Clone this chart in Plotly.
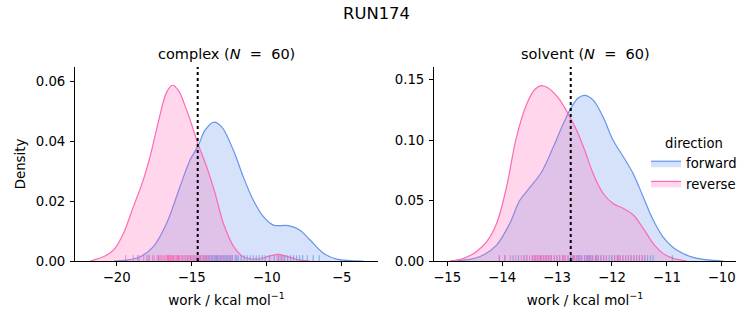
import plotly.graph_objects as go

# ---------------- data ----------------
# KDE curves (work in kcal/mol, density)
cx_fwd_x = [-20.2, -19.3, -18.44, -17.55, -16.67, -15.78, -15.11, -14.55, -14.11, -13.51, -13.0, -12.22,
            -11.56, -10.89, -10.22, -9.56, -8.56, -7.78, -7.11, -6.22, -5.33, -3.55]
cx_fwd_y = [0.0, 0.0003, 0.0014, 0.0048, 0.0126, 0.0248, 0.0337, 0.0387, 0.0437, 0.0464, 0.0448, 0.037,
            0.0281, 0.0203, 0.0148, 0.012, 0.0118, 0.0103, 0.007, 0.0026, 0.0006, 0.0]
cx_rev_x = [-21.78, -20.9, -20.2, -19.55, -18.9, -18.3, -17.78, -17.2, -16.67, -16.29, -15.89, -15.33,
            -14.55, -14.0, -13.44, -12.89, -12.2, -11.56, -10.67, -9.78, -9.2, -8.56, -7.78, -7.1]
cx_rev_y = [0.0, 0.0014, 0.0037, 0.0092, 0.018, 0.026, 0.0348, 0.047, 0.0564, 0.0587, 0.057, 0.0503,
            0.0387, 0.0314, 0.0226, 0.0126, 0.0048, 0.0014, 0.0006, 0.0017, 0.0022, 0.0014, 0.0003, 0.0]

sv_fwd_x = [-14.95, -14.59, -14.34, -14.1, -13.86, -13.68, -13.49, -13.28, -13.07, -12.89, -12.74, -12.61,
            -12.49, -12.34, -12.16, -11.98, -11.79, -11.61, -11.43, -11.25, -11.07, -10.82, -10.52, -10.15, -9.97]
sv_fwd_y = [0.0, 0.0014, 0.005, 0.0132, 0.031, 0.05, 0.061, 0.0736, 0.094, 0.113, 0.127, 0.135,
            0.137, 0.133, 0.119, 0.1, 0.086, 0.072, 0.053, 0.034, 0.02, 0.009, 0.003, 0.0005, 0.0]
sv_rev_x = [-14.95, -14.71, -14.47, -14.28, -14.1, -13.92, -13.74, -13.55, -13.4, -13.28, -13.16, -12.98,
            -12.8, -12.64, -12.49, -12.34, -12.16, -11.98, -11.79, -11.61, -11.43, -11.25, -11.07, -10.88, -10.64]
sv_rev_y = [0.0, 0.002, 0.0077, 0.016, 0.031, 0.061, 0.102, 0.13, 0.142, 0.145, 0.143, 0.135,
            0.122, 0.108, 0.091, 0.072, 0.056, 0.0475, 0.0434, 0.038, 0.027, 0.0146, 0.0063, 0.0022, 0.0]

# individual work values (rug)
cx_fwd_work = [-18.6, -17.9, -17.2, -16.6, -16.2, -15.9, -15.6, -15.3, -15.1, -14.9, -14.7, -14.5, -14.4,
               -14.2, -14.1, -14.0, -13.9, -13.8, -13.7, -13.6, -13.5, -13.4, -13.35, -13.3, -13.2, -13.1,
               -13.0, -12.9, -12.8, -12.7, -12.6, -12.5, -12.4, -12.3, -12.1, -12.0, -11.9, -11.7, -11.5,
               -11.3, -11.1, -10.9, -10.7, -10.5, -10.3, -10.1, -9.8, -9.5, -9.2, -9.0, -8.8, -8.6, -8.4,
               -8.2, -8.0, -7.8, -7.6, -7.3, -6.9, -6.5]
cx_rev_work = [-19.4, -18.9, -18.5, -18.2, -18.0, -17.8, -17.6, -17.5, -17.3, -17.2, -17.1, -17.0, -16.9,
               -16.8, -16.7, -16.6, -16.55, -16.5, -16.45, -16.4, -16.3, -16.25, -16.2, -16.1, -16.0,
               -15.95, -15.9, -15.8, -15.7, -15.6, -15.5, -15.4, -15.3, -15.2, -15.1, -15.0, -14.9, -14.8,
               -14.7, -14.6, -14.5, -14.4, -14.3, -14.2, -14.1, -14.0, -13.9, -13.7, -13.5, -13.3, -13.1,
               -12.9, -12.7, -12.5, -12.3, -9.3, -9.1, -8.9, -16.35, -15.85]
sv_fwd_work = [-14.05, -13.95, -13.8, -13.7, -13.6, -13.55, -13.45, -13.4, -13.3, -13.25, -13.2, -13.1,
               -13.05, -13.0, -12.95, -12.9, -12.85, -12.8, -12.75, -12.7, -12.65, -12.6, -12.58, -12.55,
               -12.5, -12.47, -12.45, -12.4, -12.38, -12.35, -12.3, -12.25, -12.2, -12.15, -12.1, -12.05,
               -12.0, -11.95, -11.9, -11.85, -11.8, -11.75, -11.7, -11.65, -11.6, -11.55, -11.5, -11.45,
               -11.4, -11.35, -11.3, -11.25, -12.62, -12.42, -12.28, -12.72, -13.15, -13.35, -11.9, -10.9]
sv_rev_work = [-14.05, -13.95, -13.85, -13.75, -13.65, -13.6, -13.55, -13.5, -13.45, -13.4, -13.38, -13.35,
               -13.3, -13.28, -13.25, -13.2, -13.18, -13.15, -13.1, -13.05, -13.0, -12.95, -12.9, -12.85,
               -12.8, -12.75, -12.7, -12.65, -12.6, -12.55, -12.5, -12.45, -12.4, -12.35, -12.3, -12.25,
               -12.2, -12.15, -12.1, -12.0, -11.95, -11.9, -11.85, -11.8, -11.75, -11.7, -11.65, -11.6,
               -11.55, -11.5, -11.45, -11.4, -13.42, -13.32, -13.22, -13.12, -12.88, -12.68, -12.42, -11.88]

cx_dg = -14.6
sv_dg = -12.75

cx_xticks = [-20, -15, -10, -5]
cx_yticks = [0.0, 0.02, 0.04, 0.06]
sv_xticks = [-15, -14, -13, -12, -11, -10]
sv_yticks = [0.0, 0.05, 0.10, 0.15]

# ---------------- style ----------------
BLUE = "#6495ED"
PINK = "#FF69B4"
BLUE_FILL = "rgba(100,149,237,0.27)"
PINK_FILL = "rgba(255,105,180,0.27)"
BLUE_RUG = "rgba(100,149,237,0.8)"
PINK_RUG = "rgba(255,105,180,0.8)"
FONT = "DejaVu Sans"
W, H = 753, 325

fig = go.Figure()

def px2x(p):
    return p / W

def px2y(p):
    return 1 - p / H

panels = [
    dict(xa="x", ya="y", fx=cx_fwd_x, fy=cx_fwd_y, rx=cx_rev_x, ry=cx_rev_y,
         fw=cx_fwd_work, rw=cx_rev_work, dg=cx_dg, ymax=0.0648, legend=False),
    dict(xa="x2", ya="y2", fx=sv_fwd_x, fy=sv_fwd_y, rx=sv_rev_x, ry=sv_rev_y,
         fw=sv_fwd_work, rw=sv_rev_work, dg=sv_dg, ymax=0.1604, legend=True),
]

for p in panels:
    for xs, ys, line, fill, name in [(p["fx"], p["fy"], BLUE, BLUE_FILL, "forward"),
                                     (p["rx"], p["ry"], PINK, PINK_FILL, "reverse")]:
        fig.add_trace(go.Scatter(x=xs, y=ys, mode="lines", line=dict(color=line, width=1.2, shape="spline", smoothing=1.0),
                                 fill="tozeroy", fillcolor=fill, name=name, showlegend=p["legend"],
                                 xaxis=p["xa"], yaxis=p["ya"], hoverinfo="skip"))
    h = p["ymax"] * 0.03
    for works, col in [(p["fw"], BLUE_RUG), (p["rw"], PINK_RUG)]:
        rx, ry = [], []
        for w in works:
            rx += [w, w, None]
            ry += [0, h, None]
        fig.add_trace(go.Scatter(x=rx, y=ry, mode="lines", line=dict(color=col, width=1),
                                 showlegend=False, xaxis=p["xa"], yaxis=p["ya"], hoverinfo="skip"))
    fig.add_trace(go.Scatter(x=[p["dg"], p["dg"]], y=[0, p["ymax"]], mode="lines",
                             line=dict(color="black", width=2, dash="dot"), showlegend=False,
                             xaxis=p["xa"], yaxis=p["ya"], hoverinfo="skip"))

y_dom = [px2y(261), px2y(67)]
axis_common = dict(showgrid=False, zeroline=False, showline=True, linecolor="black", linewidth=1,
                   ticks="outside", ticklen=4, tickwidth=1, tickcolor="black", automargin=False,
                   tickfont=dict(family=FONT, size=13.3, color="black"))
xlab = "work / kcal mol<sup>−1</sup>"

fig.update_layout(
    width=W, height=H, margin=dict(l=0, r=0, t=0, b=0, autoexpand=False),
    paper_bgcolor="white", plot_bgcolor="white",
    font=dict(family=FONT, color="black"),
    xaxis=dict(domain=[px2x(75), px2x(378)], range=[-22.78, -2.58], tickvals=cx_xticks, anchor="y",
               ticklabelstandoff=0,
               title=dict(text=xlab, font=dict(size=13.5), standoff=11), **axis_common),
    yaxis=dict(domain=y_dom, range=[0, 0.0648], tickvals=cx_yticks, tickformat=".2f", anchor="x",
               ticklabelstandoff=2,
               title=dict(text="Density", font=dict(size=13.3), standoff=7), **axis_common),
    xaxis2=dict(domain=[px2x(434), px2x(736)], range=[-15.24, -9.74], tickvals=sv_xticks, anchor="y2",
                ticklabelstandoff=0,
                title=dict(text=xlab, font=dict(size=13.5), standoff=11), **axis_common),
    yaxis2=dict(domain=y_dom, range=[0, 0.1604], tickvals=sv_yticks, tickformat=".2f", anchor="x2",
                ticklabelstandoff=2, **axis_common),
    legend=dict(x=px2x(646), y=px2y(131), xanchor="left", yanchor="top", bgcolor="rgba(0,0,0,0)",
                font=dict(family=FONT, size=13.2), title=dict(text="direction", side="top center", font=dict(size=13.2)),
                itemwidth=30, tracegroupgap=0),
    annotations=[
        dict(text="RUN174", x=0.5, y=px2y(13), xref="paper", yref="paper", showarrow=False,
             font=dict(family=FONT, size=16.4), xanchor="center", yanchor="middle"),
        dict(text="complex (<i>N</i>&nbsp;&nbsp;=&nbsp;&nbsp;60)", x=px2x(226.5), y=px2y(54), xref="paper", yref="paper",
             showarrow=False, font=dict(family=FONT, size=14.5), xanchor="center", yanchor="middle"),
        dict(text="solvent (<i>N</i>&nbsp;&nbsp;=&nbsp;&nbsp;60)", x=px2x(585), y=px2y(54), xref="paper", yref="paper",
             showarrow=False, font=dict(family=FONT, size=14.5), xanchor="center", yanchor="middle"),
    ],
)

fig.write_html("out.html")
